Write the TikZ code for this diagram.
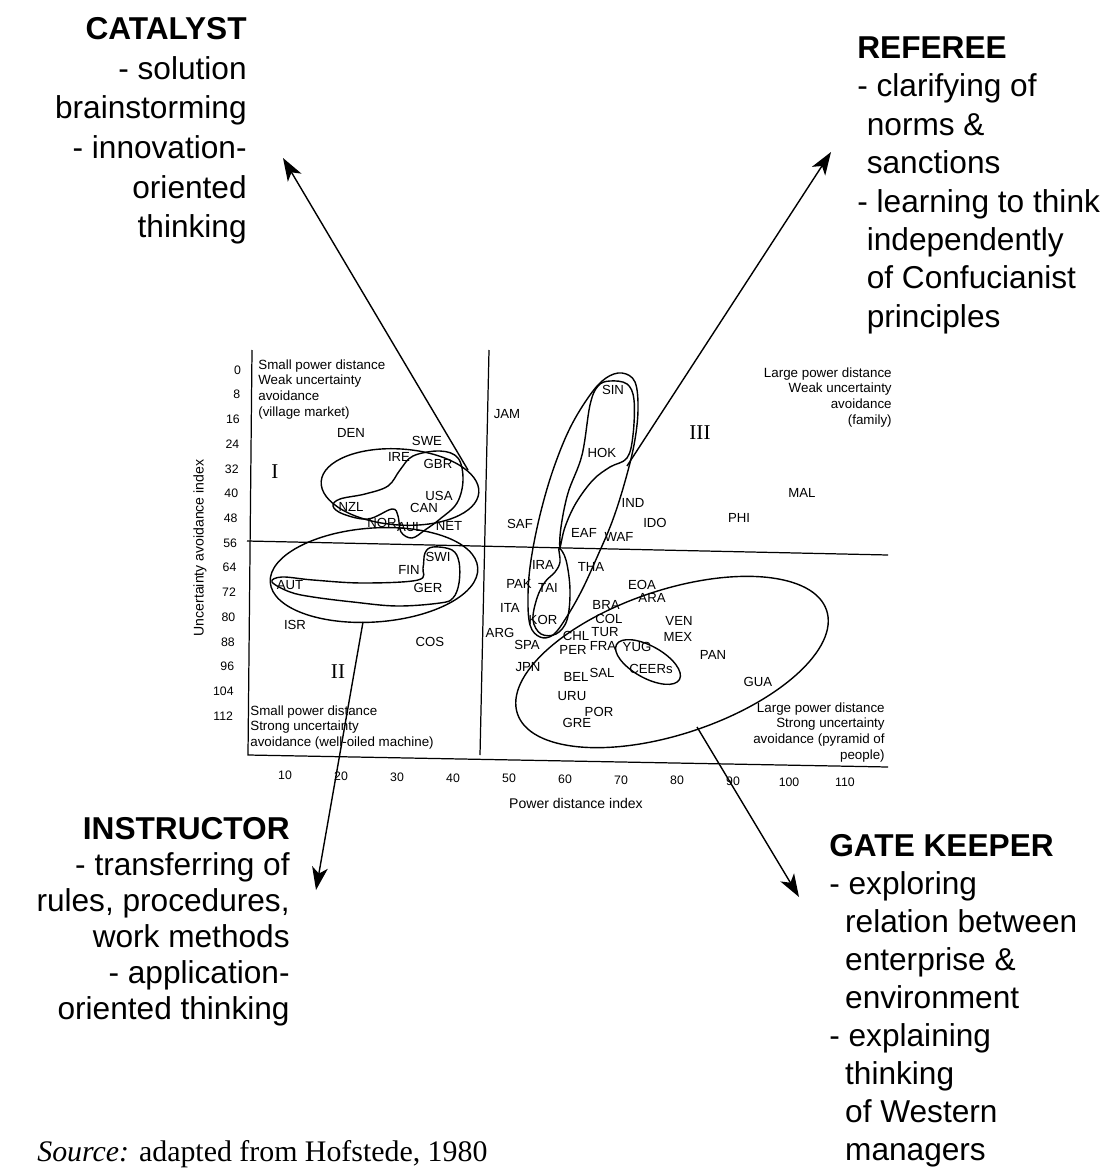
\documentclass[tikz,border=0pt]{standalone}
\usepackage{fontspec}
\setmainfont{Liberation Sans}
\newfontfamily\romanfont{Liberation Serif}
\usetikzlibrary{arrows.meta}

\begin{document}
\begin{tikzpicture}[x=0.02cm, y=-0.02cm,
	role/.style={inner sep=0pt},
	quad/.style={inner sep=0pt, font=\fontsize{7.6}{9}\selectfont},
	cty/.style={inner sep=0.5pt, font=\fontsize{7.5}{8}\selectfont},
	tick/.style={inner sep=1pt, font=\fontsize{7}{8}\selectfont},
	numeral/.style={font=\romanfont\fontsize{12}{12}\selectfont},
	frame/.style={line width=0.7pt},
	blob/.style={line width=0.8pt},
	pointer/.style={line width=0.8pt, -{Stealth[length=13pt, width=9pt, inset=3.5pt]}}]
	\useasboundingbox (0,0) rectangle (1102,1169);

	\draw[frame] (252,350) -- (248,755) -- (888,767);
	\draw[frame] (489,350) -- (480,755);
	\draw[frame] (247,541) -- (888,555);

	\foreach \v in {0,8,...,112}
		\node[tick, anchor=east] (yt\v) at ({243-0.07*\v},{370+3.09*\v}) {\v};
	\foreach \v in {10,20,...,110}
		\node[tick] (xt\v) at ({229+5.6*\v},{775+0.07*\v}) {\v};
	\node[tick, rotate=90, font=\fontsize{8}{9}\selectfont] (ylab) at (200,548) {Uncertainty avoidance index};
	\node[tick, font=\fontsize{8}{9}\selectfont] (xlab) at (576,803) {Power distance index};

	\node[quad, anchor=north west, align=left] (qI) at (258,359) {Small power distance\\Weak uncertainty\\avoidance\\(village market)};
	\node[quad, anchor=north west, align=left] (qII) at (250,705) {Small power distance\\Strong uncertainty\\avoidance (well-oiled machine)};
	\node[quad, anchor=north east, align=right] (qIII) at (892,367) {Large power distance\\Weak uncertainty\\avoidance\\(family)};
	\node[quad, anchor=north east, align=right] (qIV) at (885,702) {Large power distance\\Strong uncertainty\\avoidance (pyramid of\\people)};
	\node[numeral] (numI) at (275,472) {I};
	\node[numeral] (numII) at (338,672) {II};
	\node[numeral] (numIII) at (700,433) {III};

	\foreach \c/\x/\y in {DEN/351/433, SWE/427/441, IRE/399/457, GBR/438/464, USA/439/496,
		CAN/424/508, NZL/351/507, NOR/382/523, AUL/410/527, NET/449/526,
		SWI/438/557, FIN/409/570, AUT/290/585, GER/428/588, ISR/295/625, COS/430/642,
		JAM/507/414, SIN/613/390, HOK/602/453, IND/633/503, SAF/520/524, EAF/584/533,
		WAF/619/537, IDO/655/523, PHI/739/518, MAL/802/493,
		IRA/543/565, THA/591/567, PAK/519/584, TAI/548/588, ITA/510/608, KOR/543/620,
		ARG/500/633, SPA/527/645, CHL/576/636, TUR/605/632, COL/609/619, BRA/606/605,
		EOA/642/585, ARA/652/598, VEN/679/621, MEX/678/637, PER/573/650, FRA/603/646,
		YUG/637/647, PAN/713/655, JPN/528/667, CEERs/651/669, BEL/576/677, SAL/602/673,
		GUA/758/682, URU/572/696, POR/599/712, GRE/577/723}
		\node[cty] (\c) at (\x,\y) {\c};

	\draw[blob, rotate around={-4:(400,487)}] (400,487) ellipse [x radius=79, y radius=38];
	\draw[blob] plot[smooth cycle, tension=0.6] coordinates {(413,456) (440,451) (458,458) (463,480) (457,503) (440,519) (425,530) (412,538) (401,532) (398,516) (392,509) (368,519) (343,514) (333,506) (340,499) (365,494) (388,486) (400,470)};
	\draw[blob, rotate around={4:(374,575)}] (374,575) ellipse [x radius=104, y radius=47];
	\draw[blob] plot[smooth cycle, tension=0.6] coordinates {(272,582) (282,577) (313,580) (363,583) (418,580) (423,568) (425,553) (433,547) (452,550) (459,562) (459,583) (453,598) (440,603) (397,606) (353,602) (313,597) (290,592)};
	\draw[blob] plot[smooth cycle, tension=0.6] coordinates {(622,373) (635,382) (638,410) (634,445) (624,485) (612,522) (598,555) (582,590) (566,618) (553,635) (540,637) (530,625) (528,595) (531,560) (540,515) (553,470) (570,428) (590,395) (606,378)};
	\draw[blob] plot[smooth cycle, tension=0.6] coordinates {(610,381) (627,384) (634,400) (633,435) (627,458) (610,467) (593,480) (576,503) (565,527) (560,547) (561,527) (568,493) (582,455) (590,405) (598,386)};
	\draw[blob] plot[smooth cycle, tension=0.6] coordinates {(559,548) (566,560) (570,590) (567,620) (556,634) (541,634) (533,620) (537,598) (545,582) (555,572) (560,562)};
	\draw[blob, rotate around={18.5:(672,662)}] (672,662) ellipse [x radius=163, y radius=72];
	\draw[blob, rotate around={-29:(648,662)}] (648,662) ellipse [x radius=36, y radius=16];

	\node[role, anchor=north east, align=right, font=\fontsize{18}{22.6}\selectfont] (catalyst) at (247,17) {\textbf{CATALYST}\\- solution\\brainstorming\\- innovation-\\oriented\\thinking};
	\node[role, anchor=north west, align=left, font=\fontsize{18}{21.9}\selectfont] (referee) at (857,36) {\textbf{REFEREE}\\- clarifying of\\\hspace{0.3em}norms \&\\\hspace{0.3em}sanctions\\- learning to think\\\hspace{0.3em}independently\\\hspace{0.3em}of Confucianist\\\hspace{0.3em}principles};
	\node[role, anchor=north east, align=right, font=\fontsize{18}{20.5}\selectfont] (instructor) at (290,817) {\textbf{INSTRUCTOR}\\- transferring of\\rules, procedures,\\work methods\\- application-\\oriented thinking};
	\node[role, anchor=north west, align=left, font=\fontsize{18}{21.6}\selectfont] (gatekeeper) at (829,834) {\textbf{GATE KEEPER}\\- exploring\\\hspace{0.5em}relation between\\\hspace{0.5em}enterprise \&\\\hspace{0.5em}environment\\- explaining\\\hspace{0.5em}thinking\\\hspace{0.5em}of Western\\\hspace{0.5em}managers};
	\node[anchor=base west, inner sep=0pt, font=\romanfont\fontsize{17}{20}\selectfont] (source) at (37,1161) {\textit{Source:} adapted from Hofstede, 1980};

	\coordinate (catFrom) at (468,470);
	\coordinate (catTo) at (283,158);
	\coordinate (refFrom) at (627,466);
	\coordinate (refTo) at (831,152);
	\coordinate (insFrom) at (363,622);
	\coordinate (insTo) at (316,890);
	\coordinate (gateFrom) at (697,727);
	\coordinate (gateTo) at (799,897);
	\draw[pointer] (catFrom) -- (catTo);
	\draw[pointer] (refFrom) -- (refTo);
	\draw[pointer] (insFrom) -- (insTo);
	\draw[pointer] (gateFrom) -- (gateTo);
\end{tikzpicture}
\end{document}
